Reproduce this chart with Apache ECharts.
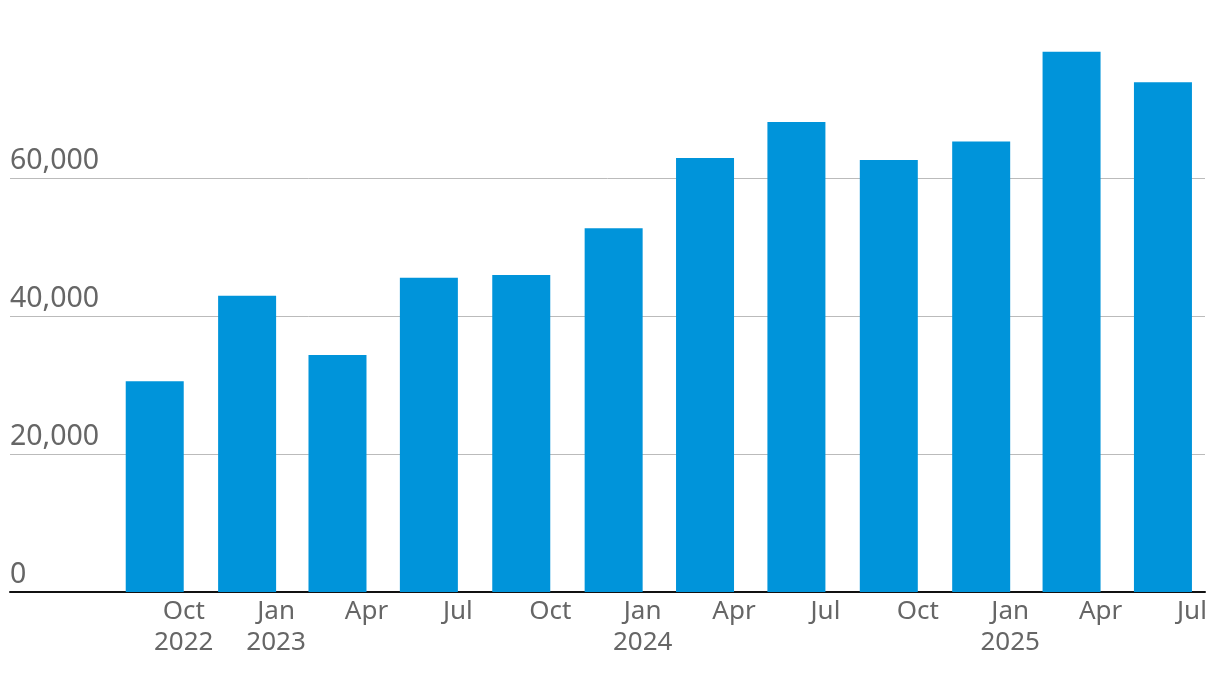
<!DOCTYPE html>
<html>
<head>
<meta charset="utf-8">
<script src="https://cdn.jsdelivr.net/npm/echarts@6/dist/echarts.min.js"></script>
<style>
  html, body { margin: 0; padding: 0; background: #ffffff; }
  #chart { width: 1220px; height: 678px; }
</style>
</head>
<body>
<div id="chart"></div>
<script>
// Quarter dates (bar right edge sits on each date)
const quarterDates = ['2022-10-01', '2023-01-01', '2023-04-01', '2023-07-01', '2023-10-01', '2024-01-01',
                      '2024-04-01', '2024-07-01', '2024-10-01', '2025-01-01', '2025-04-01', '2025-07-01'];
const values = [30600, 43000, 34400, 45600, 46000, 52800, 63000, 68200, 62700, 65400, 78400, 74000];
const tickLabels = ['Oct\n2022', 'Jan\n2023', 'Apr', 'Jul', 'Oct', 'Jan\n2024',
                    'Apr', 'Jul', 'Oct', 'Jan\n2025', 'Apr', 'Jul'];
const yTicks = [0, 20000, 40000, 60000];
const axisStart = '2022-04-11';
const axisEnd = '2025-07-14';

// day number since 2022-01-01 (UTC)
function dayNum(s) {
  const p = s.split('-').map(Number);
  return Math.round((Date.UTC(p[0], p[1] - 1, p[2]) - Date.UTC(2022, 0, 1)) / 86400000);
}
const quarterDays = quarterDates.map(dayNum);

const chart = echarts.init(document.getElementById('chart'), null, { renderer: 'canvas' });
const textColor = '#666666';
const fontFamily = '"Noto Sans", "Open Sans", sans-serif';

chart.setOption({
  animation: false,
  backgroundColor: '#ffffff',
  grid: { left: 10, right: 15, top: 40.8, bottom: 86, containLabel: false },
  xAxis: {
    type: 'value',
    min: dayNum(axisStart),
    max: dayNum(axisEnd),
    axisLine: { show: true, onZero: false, lineStyle: { color: '#111111', width: 2 } },
    axisTick: { show: false },
    splitLine: { show: false },
    axisLabel: {
      customValues: quarterDays,
      color: textColor,
      fontFamily: fontFamily,
      fontSize: 26,
      lineHeight: 31,
      margin: 4,
      hideOverlap: false,
      formatter: function (value) {
        let best = 0, bd = Infinity;
        quarterDays.forEach(function (t, i) {
          const d = Math.abs(t - value);
          if (d < bd) { bd = d; best = i; }
        });
        return tickLabels[best];
      }
    }
  },
  yAxis: {
    type: 'value',
    min: 0,
    max: 80000,
    interval: 20000,
    axisLine: { show: false },
    axisTick: { show: false },
    splitLine: { show: true, showMinLine: false, showMaxLine: false, lineStyle: { color: '#bbbbbb', width: 1 } },
    axisLabel: {
      inside: true,
      showMaxLabel: false,
      margin: 0,
      color: textColor,
      fontFamily: fontFamily,
      fontSize: 28.5,
      lineHeight: 35,
      align: 'left',
      verticalAlign: 'bottom',
      formatter: function (v) {
        return yTicks.indexOf(v) >= 0 ? v.toLocaleString('en-US') : '';
      }
    }
  },
  series: [
    {
      type: 'bar',
      data: quarterDays.map(function (t, i) { return [t, values[i]]; }),
      barWidth: 58,
      barGap: '0%',
      itemStyle: { color: '#0094da' },
      silent: true
    },
    {
      type: 'bar',
      data: quarterDays.map(function (t) { return [t, 0]; }),
      barWidth: 58,
      barGap: '0%',
      itemStyle: { color: 'rgba(0,0,0,0)' },
      silent: true
    }
  ]
});
</script>
</body>
</html>
